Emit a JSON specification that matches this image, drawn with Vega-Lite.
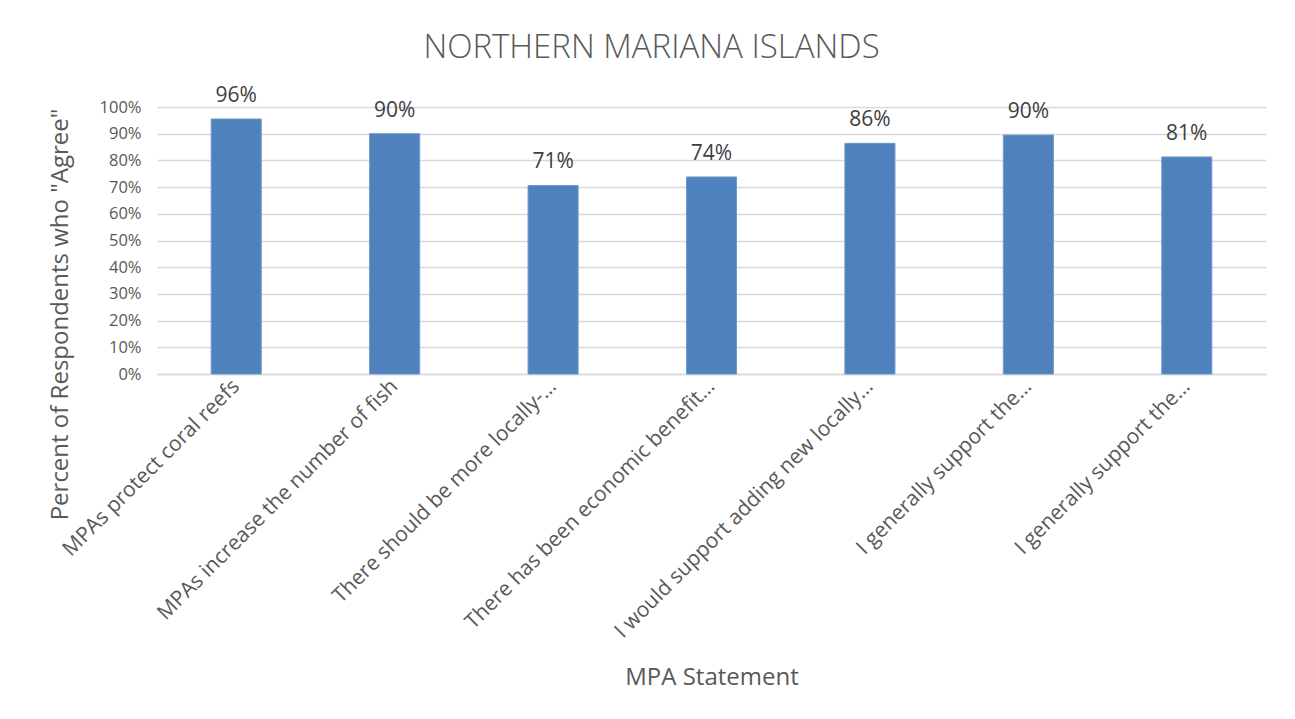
{
  "$schema": "https://vega.github.io/schema/vega-lite/v6.json",
  "width": 1109,
  "height": 267,
  "autosize": {"type": "none"},
  "padding": {"left": 157, "top": 107, "right": 29, "bottom": 345},
  "background": "white",
  "title": {
    "text": "NORTHERN MARIANA ISLANDS",
    "anchor": "middle",
    "frame": "group",
    "dx": -60,
    "offset": -6,
    "baseline": "alphabetic",
    "font": "Open Sans",
    "fontSize": 33,
    "fontWeight": 300,
    "color": "#595959"
  },
  "data": {
    "values": [
      {"n": 1, "statement": "MPAs protect coral reefs", "agree": 0.955},
      {"n": 2, "statement": "MPAs increase the number of fish", "agree": 0.90},
      {"n": 3, "statement": "There should be more locally-…", "agree": 0.706},
      {"n": 4, "statement": "There has been economic benefit…", "agree": 0.738},
      {"n": 5, "statement": "I would support adding new locally…", "agree": 0.864},
      {"n": 6, "statement": "I generally support the…", "agree": 0.895},
      {"n": 7, "statement": "I generally support the…", "agree": 0.813}
    ]
  },
  "encoding": {
    "x": {
      "field": "n",
      "type": "ordinal",
      "scale": {"paddingInner": 0.684, "paddingOuter": 0.342},
      "axis": {
        "title": "MPA Statement",
        "titleFont": "Open Sans",
        "titleFontSize": 24,
        "titleFontWeight": "normal",
        "titleColor": "#595959",
        "titleY": 310,
        "titleBaseline": "alphabetic",
        "labelExpr": "['MPAs protect coral reefs','MPAs increase the number of fish','There should be more locally-…','There has been economic benefit…','I would support adding new locally…','I generally support the…','I generally support the…'][datum.value - 1]",
        "labelAngle": -45,
        "labelAlign": "right",
        "labelBaseline": "middle",
        "labelPadding": 9,
        "labelFont": "Open Sans",
        "labelFontSize": 21,
        "labelColor": "#595959",
        "labelLimit": 400,
        "ticks": false,
        "domainColor": "#d9d9d9",
        "domainWidth": 1.5
      }
    },
    "y": {
      "field": "agree",
      "type": "quantitative",
      "scale": {"domain": [0, 1], "nice": false},
      "axis": {
        "title": "Percent of Respondents who \"Agree\"",
        "titleFont": "Open Sans",
        "titleFontSize": 24,
        "titleFontWeight": "normal",
        "titleColor": "#595959",
        "titleX": -97,
        "titleY": 207,
        "titleAngle": -90,
        "titleAlign": "center",
        "titleBaseline": "middle",
        "format": ".0%",
        "values": [0, 0.1, 0.2, 0.3, 0.4, 0.5, 0.6, 0.7, 0.8, 0.9, 1],
        "labelFont": "Open Sans",
        "labelFontSize": 16.5,
        "labelColor": "#595959",
        "labelPadding": 16,
        "ticks": false,
        "domain": false,
        "grid": true,
        "gridColor": "#d9d9d9",
        "gridWidth": 1.5
      }
    }
  },
  "layer": [
    {"mark": {"type": "bar", "color": "#4f81bd", "stroke": "#6f98cc", "strokeWidth": 1}},
    {
      "mark": {"type": "text", "baseline": "bottom", "dy": -13, "font": "Open Sans", "fontSize": 21, "color": "#404040"},
      "encoding": {"text": {"field": "agree", "type": "quantitative", "format": ".0%"}}
    }
  ],
  "config": {"view": {"stroke": null}}
}
